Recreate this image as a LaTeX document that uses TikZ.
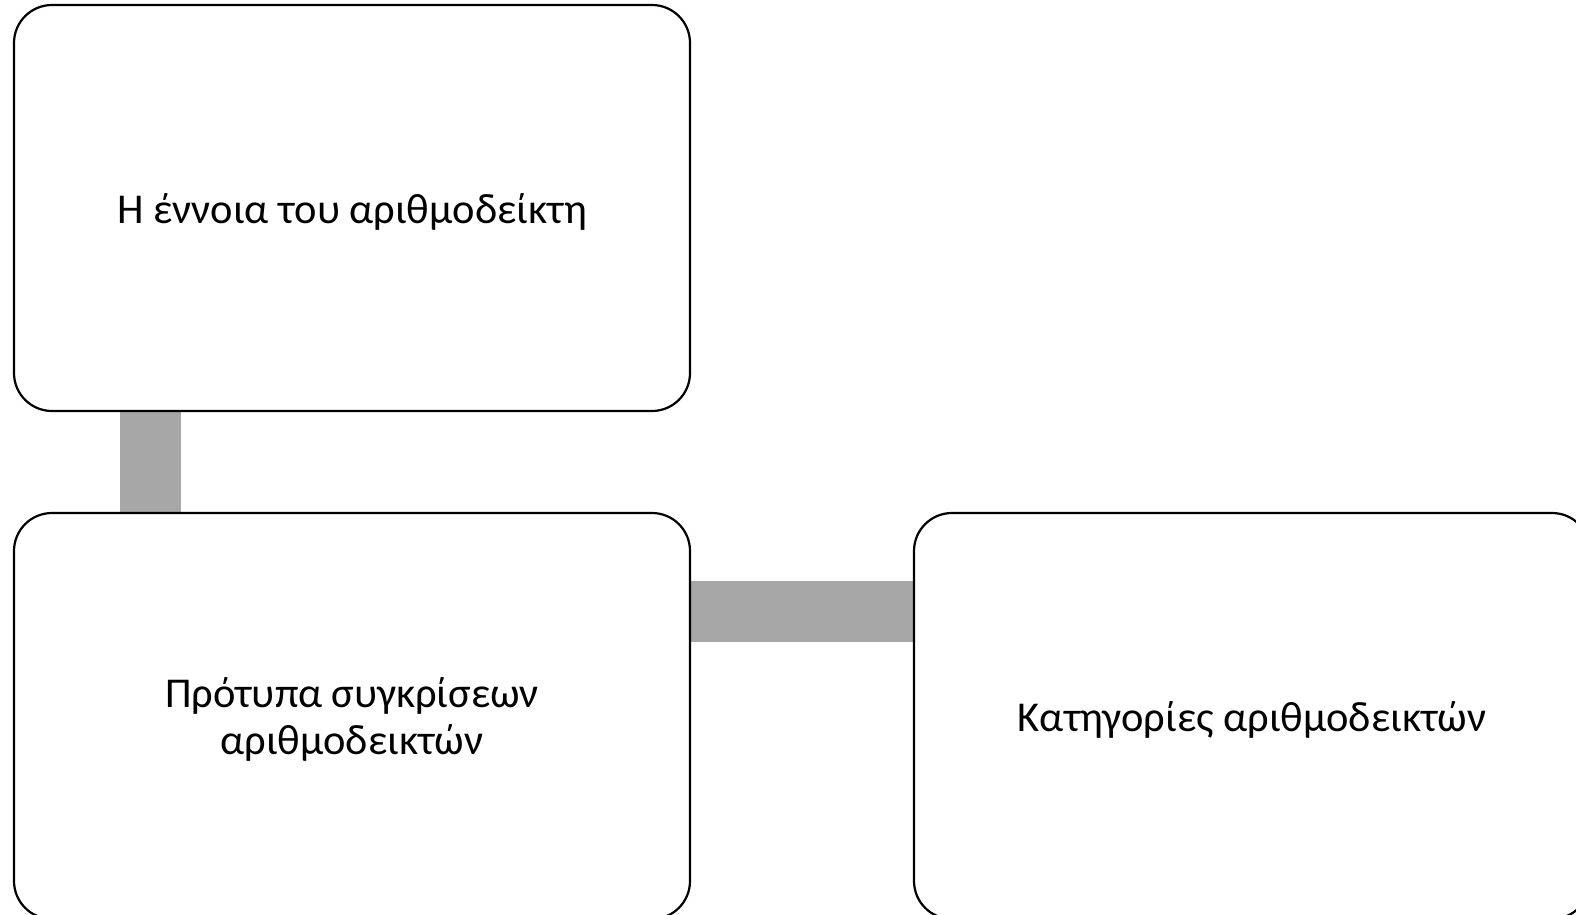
\documentclass[tikz,border=0pt]{standalone}
\usepackage{fontspec}
\setmainfont{Carlito}
\usetikzlibrary{calc,backgrounds}
\definecolor{bargray}{RGB}{167,167,167}
\newcommand{\lowr}[1]{\raisebox{0pt}[\dimexpr\height+7pt\relax][\depth]{#1}}
\tikzset{
  box/.style={draw=black, fill=white, line width=2.2pt, rounded corners=38pt,
    minimum width=676pt, minimum height=406pt, inner sep=0pt, align=center,
    font=\fontsize{42.5}{47.5}\selectfont},
  bar/.style={draw=bargray, line width=61pt, line cap=butt}
}
\begin{document}
\begin{tikzpicture}[x=1pt,y=-1pt]
\useasboundingbox (0,0) rectangle (1576,915);
\clip (0,0) rectangle (1576,915);
\node[box] (a) at (352,208) {\lowr{Η έννοια του αριθμοδείκτη}};
\node[box] (b) at (352,716) {\lowr{Πρότυπα συγκρίσεων}\\αριθμοδεικτών};
\node[box] (c) at (1252,716) {\lowr{Κατηγορίες αριθμοδεικτών}};
\begin{scope}[on background layer]
\fill[white] (0,0) rectangle (1576,915);
\draw[bar] ($(a.south west)+(137.5,0)$) -- ($(b.north west)+(137.5,0)$);
\draw[bar] ($(b.north east)+(0,99.5)$) -- ($(c.north west)+(0,99.5)$);
\end{scope}
\end{tikzpicture}
\end{document}
